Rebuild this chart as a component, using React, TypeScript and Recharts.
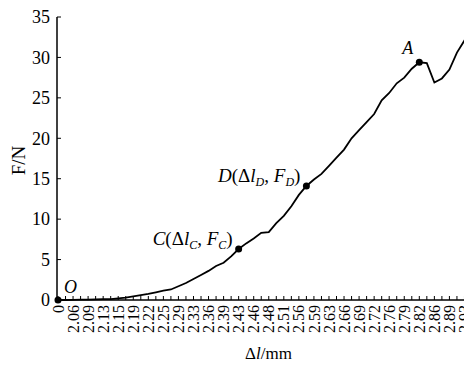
import { LineChart, Line, XAxis, YAxis, Label } from "recharts";

// tick labels on the x axis (one every second sample)
const xLabels = [
  "0", "2.06", "2.09", "2.13", "2.15", "2.19", "2.22", "2.25", "2.29", "2.33",
  "2.36", "2.39", "2.43", "2.46", "2.48", "2.51", "2.56", "2.59", "2.63", "2.66",
  "2.69", "2.72", "2.76", "2.79", "2.82", "2.86", "2.89", "2.93",
];

// force F (N) at each sample
const force = [
  0, 0, 0.02, 0.05, 0.05, 0.08, 0.1, 0.12, 0.2, 0.3,
  0.45, 0.6, 0.75, 0.95, 1.15, 1.3, 1.7, 2.1, 2.6, 3.1,
  3.6, 4.2, 4.6, 5.4, 6.3, 7.0, 7.6, 8.3, 8.4, 9.5,
  10.4, 11.6, 13.0, 14.1, 14.9, 15.6, 16.6, 17.6, 18.6, 20.0,
  21.0, 22.0, 23.0, 24.7, 25.6, 26.8, 27.5, 28.6, 29.4, 29.3,
  26.9, 27.4, 28.5, 30.6, 32.1, 32.1,
];

const yTicks = [0, 5, 10, 15, 20, 25, 30, 35];

// marked points on the curve
const marks: Record<number, string> = { 0: "O", 24: "C", 33: "D", 48: "A" };

const data = force.map((f, i) => ({ i, f }));

const serif = "'Liberation Serif', 'DejaVu Serif', serif";

const XTick = (props: any) => {
  const { x, y, payload } = props;
  const idx = payload.value as number;
  const label = idx % 2 === 0 ? xLabels[idx / 2] : undefined;
  return (
    <g>
      <line x1={x} x2={x} y1={y} y2={y - 4} stroke="#000" strokeWidth={1} />
      {label !== undefined && (
        <text
          x={x}
          y={y + 5}
          transform={`rotate(-90, ${x}, ${y + 5})`}
          textAnchor="end"
          dy="0.35em"
          fontSize={16}
          fontFamily={serif}
          fill="#000"
        >
          {label}
        </text>
      )}
    </g>
  );
};

const YTick = (props: any) => {
  const { x, y, payload } = props;
  return (
    <g>
      <line x1={x} x2={x + 4} y1={y} y2={y} stroke="#000" strokeWidth={1} />
      <text x={x - 7} y={y} dy="0.35em" textAnchor="end" fontSize={18} fontFamily={serif} fill="#000">
        {payload.value}
      </text>
    </g>
  );
};

const sub = (s: string) => (
  <tspan fontSize={12} fontStyle="italic" dy={4}>
    {s}
  </tspan>
);

const MarkDot = (props: any) => {
  const { cx, cy, index } = props;
  const m = marks[index];
  if (!m) return <g key={`d${index}`} />;
  let text = null;
  const common = { fontFamily: serif, fill: "#000", fontSize: 19 };
  if (m === "O") {
    text = (
      <text x={cx + 6} y={cy - 7} fontStyle="italic" {...common} fontSize={18}>
        O
      </text>
    );
  } else if (m === "A") {
    text = (
      <text x={cx - 6} y={cy - 8} textAnchor="end" fontStyle="italic" {...common} fontSize={18}>
        A
      </text>
    );
  } else {
    text = (
      <text x={cx - 6} y={cy - 4} textAnchor="end" {...common}>
        <tspan fontStyle="italic">{m}</tspan>
        <tspan>(Δ</tspan>
        <tspan fontStyle="italic">l</tspan>
        {sub(m)}
        <tspan dy={-4}>, </tspan>
        <tspan fontStyle="italic">F</tspan>
        {sub(m)}
        <tspan dy={-4}>)</tspan>
      </text>
    );
  }
  return (
    <g key={`d${index}`}>
      <circle cx={cx} cy={cy} r={3.5} fill="#000" />
      {text}
    </g>
  );
};

export default function App() {
  return (
    <div style={{ width: 464, height: 357, fontFamily: serif }}>
      <LineChart width={464} height={357} data={data} margin={{ top: 9, right: 0, bottom: 5, left: 0 }}>
        <XAxis
          dataKey="i"
          type="category"
          interval={0}
          height={60}
          padding={{ left: 1, right: 0 }}
          tickSize={0}
          tickMargin={0}
          tickLine={false}
          tick={<XTick />}
          axisLine={{ stroke: "#000", strokeWidth: 1.5 }}
        >
          <Label
            content={(p: any) => {
              const vb = p.viewBox;
              return (
                <text
                  x={vb.x + vb.width / 2 + 4}
                  y={vb.y + 59}
                  textAnchor="middle"
                  fontSize={17}
                  fontFamily={serif}
                  fill="#000"
                >
                  Δ<tspan fontStyle="italic">l</tspan>/mm
                </text>
              );
            }}
          />
        </XAxis>
        <YAxis
          type="number"
          domain={[0, 35]}
          ticks={yTicks}
          interval={0}
          width={49}
          tickSize={0}
          tickMargin={0}
          tickLine={false}
          tick={<YTick />}
          axisLine={{ stroke: "#000", strokeWidth: 1.5 }}
        >
          <Label
            content={(p: any) => {
              const vb = p.viewBox;
              const cx = vb.x + 10;
              const cy = vb.y + vb.height / 2 + 2;
              return (
                <text
                  x={cx}
                  y={cy}
                  transform={`rotate(-90, ${cx}, ${cy})`}
                  textAnchor="middle"
                  dy="0.35em"
                  fontSize={19}
                  fontFamily={serif}
                  fill="#000"
                >
                  F/N
                </text>
              );
            }}
          />
        </YAxis>
        <Line
          type="linear"
          dataKey="f"
          stroke="#000"
          strokeWidth={1.8}
          dot={MarkDot}
          activeDot={false}
          isAnimationActive={false}
        />
      </LineChart>
    </div>
  );
}
